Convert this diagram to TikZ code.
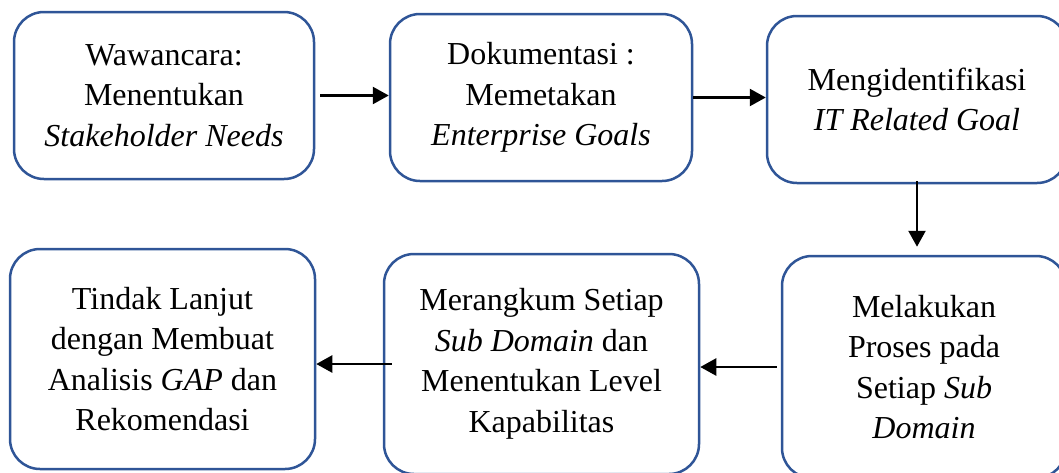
\documentclass[tikz,border=0pt]{standalone}
\usepackage{fontspec}
\setmainfont{Liberation Serif}
\usetikzlibrary{arrows.meta}
\definecolor{boxblue}{RGB}{47,85,151}
\begin{document}
\begin{tikzpicture}[x=1pt,y=-1pt,
  box/.style={draw=boxblue,line width=2.5pt,rounded corners=30pt,fill=white,
    align=center,inner sep=0pt,font=\fontsize{32}{40.5}\selectfont},
  arrow/.style={-{Triangle[length=16pt,width=17pt]},line width=2.5pt}]
  \useasboundingbox (0,0) rectangle (1059,472);
  % top row
  \node[box,minimum width=300pt,minimum height=167pt] (wawancara) at (164,95.5)
    {Wawancara:\\Menentukan\\\textit{Stakeholder Needs}};
  \node[box,minimum width=302pt,minimum height=167pt] (dokumentasi) at (541,97.5)
    {Dokumentasi :\\Memetakan\\\textit{Enterprise Goals}};
  \node[box,minimum width=300pt,minimum height=167pt] (identifikasi) at (917,99.5)
    {Mengidentifikasi\\\textit{IT Related Goal}};
  % bottom row
  \node[box,minimum width=284pt,minimum height=222pt] (proses) at (924,367)
    {Melakukan\\Proses pada\\Setiap \textit{Sub}\\\textit{Domain}};
  \node[box,minimum width=315pt,minimum height=220pt] (rangkum) at (541.5,364)
    {Merangkum Setiap\\\textit{Sub Domain} dan\\Menentukan Level\\Kapabilitas};
  \node[box,minimum width=305pt,minimum height=220pt] (tindak) at (162.5,359)
    {Tindak Lanjut\\dengan Membuat\\Analisis \textit{GAP} dan\\Rekomendasi};
  % connectors
  \draw[arrow,shorten <=5pt] (wawancara.east) -- (wawancara.east -| dokumentasi.west);
  \draw[arrow] (dokumentasi.east) -- (dokumentasi.east -| identifikasi.west);
  \draw[arrow,shorten <=-3pt,shorten >=8pt] (identifikasi.south) -- (identifikasi.south |- proses.north);
  \draw[arrow,shorten <=4pt] (proses.west) -- (proses.west -| rangkum.east);
  \draw[arrow,shorten <=-9pt] (rangkum.west) -- (rangkum.west -| tindak.east);
\end{tikzpicture}
\end{document}
